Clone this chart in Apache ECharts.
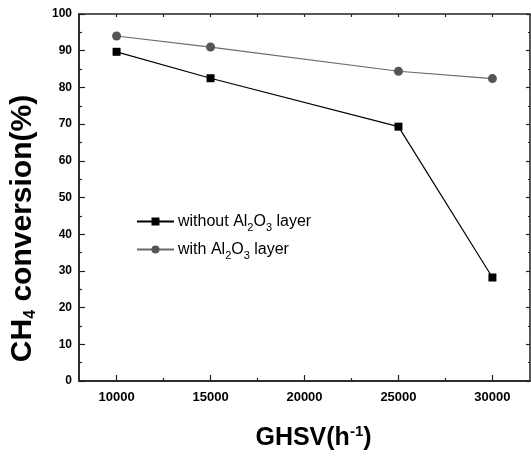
<!DOCTYPE html>
<html><head><meta charset="utf-8">
<script src="https://cdn.jsdelivr.net/npm/echarts@6/dist/echarts.min.js"></script>
<style>html,body{margin:0;padding:0;background:#fff}#c{width:531px;height:457px}</style>
</head><body><div id="c"></div>
<script>
const ghsv = [10000, 15000, 25000, 30000];
const withoutAl2O3 = [89.7, 82.5, 69.3, 28.2];
const withAl2O3 = [94.0, 91.0, 84.4, 82.4];
const seriesNames = ['without Al2O3 layer', 'with Al2O3 layer'];
const xTicks = [10000, 15000, 20000, 25000, 30000];
const xMinorTicks = [12500, 17500, 22500, 27500];

const chart = echarts.init(document.getElementById('c'), null, {renderer: 'canvas'});
const F = 'Arial, "Liberation Sans", sans-serif';
const AX = '#222';
function pairs(xs, ys) { return xs.map((x, i) => [x, ys[i]]); }
const xBase = {type: 'value', min: 8000, max: 32000, gridIndex: 0, splitLine: {show: false}};
chart.setOption({
  animation: false,
  grid: {left: 77, top: 14, right: 1, bottom: 76, show: true, borderColor: AX, borderWidth: 1.5},
  legend: {
    left: 136, top: 210, orient: 'vertical', itemWidth: 37, itemHeight: 10, itemGap: 5, padding: 0,
    data: seriesNames,
    formatter: function (n) {
      return n === seriesNames[0]
        ? '{n|without Al}{s|2}{n|O}{s|3}{n| layer}'
        : '{n|with Al}{s|2}{n|O}{s|3}{n| layer}';
    },
    textStyle: {
      fontFamily: F, fontSize: 16, color: '#000', padding: [0, 0, 0, -1],
      rich: {
        n: {fontFamily: F, fontSize: 16, lineHeight: 18, color: '#000'},
        s: {fontFamily: F, fontSize: 11, lineHeight: 11, color: '#000', padding: [12, 0, 0, 0]}
      }
    }
  },
  xAxis: [
    Object.assign({}, xBase, {
      position: 'bottom',
      name: '{a|GHSV(h}{b|-1}{a|)}', nameLocation: 'middle', nameGap: 43,
      nameTextStyle: {
        padding: [0, 0, 0, 18],
        rich: {
          a: {fontFamily: F, fontSize: 25, fontWeight: 'bold', color: '#000'},
          b: {fontFamily: F, fontSize: 15, fontWeight: 'bold', color: '#000', padding: [0, 0, 13, 0]}
        }
      },
      axisLine: {lineStyle: {color: AX, width: 1.5}},
      axisTick: {inside: true, length: 6, lineStyle: {color: AX, width: 1.2}, customValues: xTicks},
      axisLabel: {fontFamily: F, fontSize: 13, fontWeight: 'bold', color: '#000', margin: 10,
        customValues: xTicks, formatter: v => String(v)}
    }),
    Object.assign({}, xBase, {
      position: 'bottom',
      axisLine: {show: false},
      axisTick: {inside: true, length: 3, lineStyle: {color: AX, width: 1.2}, customValues: xMinorTicks},
      axisLabel: {show: false}
    }),
    Object.assign({}, xBase, {
      position: 'top',
      axisLine: {show: false},
      axisTick: {inside: true, length: 3, lineStyle: {color: AX, width: 1.2}, customValues: xTicks.concat(xMinorTicks)},
      axisLabel: {show: false}
    })
  ],
  yAxis: [
    {
      type: 'value', min: 0, max: 100, interval: 10, position: 'left',
      name: '{a|CH}{b|4}{a| conversion(%)}', nameLocation: 'middle', nameGap: 40, nameRotate: 90,
      nameTextStyle: {
        padding: [0, 62, 0, 0],
        rich: {
          a: {fontFamily: F, fontSize: 30, fontWeight: 'bold', color: '#000'},
          b: {fontFamily: F, fontSize: 16, fontWeight: 'bold', color: '#000', padding: [16, 0, 0, 0]}
        }
      },
      axisLine: {lineStyle: {color: AX, width: 1.5}},
      axisTick: {inside: true, length: 6, lineStyle: {color: AX, width: 1.2}},
      minorTick: {show: true, splitNumber: 2, length: 3, lineStyle: {color: AX, width: 1.2}},
      axisLabel: {fontFamily: F, fontSize: 12, fontWeight: 'bold', color: '#000', margin: 7},
      splitLine: {show: false}
    },
    {
      type: 'value', min: 0, max: 100, interval: 10, position: 'right',
      axisLine: {show: false},
      axisTick: {inside: true, length: 4, lineStyle: {color: AX, width: 1.2}},
      minorTick: {show: true, splitNumber: 2, length: 2, lineStyle: {color: AX, width: 1.2}},
      axisLabel: {show: false},
      splitLine: {show: false}
    }
  ],
  series: [
    {
      name: seriesNames[0], type: 'line', data: pairs(ghsv, withoutAl2O3),
      symbol: 'rect', symbolSize: 8, showAllSymbol: true,
      lineStyle: {color: '#000', width: 1.2},
      itemStyle: {color: '#000'}
    },
    {
      name: seriesNames[1], type: 'line', data: pairs(ghsv, withAl2O3),
      symbol: 'circle', symbolSize: 9, showAllSymbol: true,
      lineStyle: {color: '#6a6a6a', width: 1.2},
      itemStyle: {color: '#555'}
    }
  ]
});
</script></body></html>
